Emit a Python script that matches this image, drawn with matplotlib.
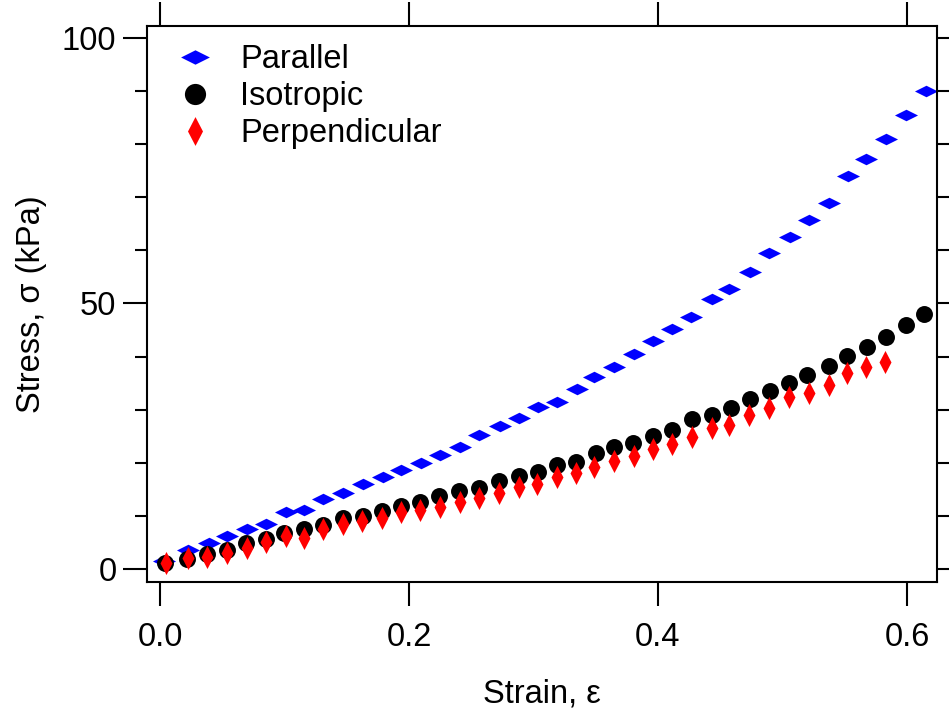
import matplotlib
matplotlib.use("Agg")
import matplotlib.pyplot as plt
from matplotlib.ticker import MultipleLocator, FixedLocator

plt.rcParams['font.family'] = ['Liberation Sans', 'DejaVu Sans']

# ---- data ----
parallel_x = [0.003, 0.0225, 0.039, 0.054, 0.070, 0.085, 0.101, 0.116, 0.131, 0.147,
              0.163, 0.179, 0.194, 0.210, 0.225, 0.241, 0.256, 0.273, 0.288, 0.304,
              0.319, 0.335, 0.349, 0.365, 0.381, 0.396, 0.411, 0.4265, 0.443, 0.457,
              0.474, 0.489, 0.506, 0.521, 0.537, 0.553, 0.567, 0.583, 0.599, 0.615]
parallel_y = [1.5, 3.6, 4.9, 6.2, 7.5, 8.5, 10.7, 11.1, 13.2, 14.3,
              16.0, 17.3, 18.6, 19.9, 21.5, 23.0, 25.2, 26.9, 28.4, 30.5,
              31.5, 33.9, 36.2, 38.0, 40.5, 42.9, 45.2, 47.5, 50.8, 52.7,
              55.9, 59.5, 62.5, 65.7, 68.9, 74.0, 77.2, 81.0, 85.5, 90.0]

isotropic_x = [0.004, 0.022, 0.038, 0.054, 0.069, 0.085, 0.100, 0.116, 0.131, 0.147,
               0.163, 0.178, 0.194, 0.209, 0.224, 0.240, 0.256, 0.272, 0.288, 0.304,
               0.319, 0.334, 0.350, 0.365, 0.380, 0.396, 0.411, 0.427, 0.443, 0.459,
               0.474, 0.490, 0.505, 0.520, 0.537, 0.552, 0.568, 0.583, 0.599, 0.614]
isotropic_y = [1.1, 1.9, 2.8, 3.6, 4.9, 5.7, 6.7, 7.6, 8.2, 9.6,
               10.0, 10.9, 11.9, 12.6, 13.7, 14.7, 15.3, 16.6, 17.5, 18.3,
               19.6, 20.2, 21.8, 22.9, 23.7, 25.0, 26.2, 28.3, 29.0, 30.3,
               32.0, 33.5, 35.0, 36.5, 38.2, 40.1, 41.8, 43.7, 45.9, 48.0]

perp_x = [0.005, 0.0225, 0.038, 0.054, 0.070, 0.085, 0.101, 0.116, 0.131, 0.147,
          0.162, 0.178, 0.194, 0.209, 0.225, 0.241, 0.256, 0.272, 0.288, 0.303,
          0.319, 0.334, 0.349, 0.365, 0.381, 0.396, 0.411, 0.427, 0.443, 0.457,
          0.473, 0.489, 0.505, 0.521, 0.537, 0.552, 0.567, 0.582]
perp_y = [1.1, 2.0, 2.3, 3.0, 4.0, 5.1, 6.2, 5.8, 7.6, 8.5,
          9.0, 9.6, 10.7, 11.1, 11.7, 12.6, 13.4, 14.3, 15.4, 16.0,
          17.3, 18.1, 19.2, 20.3, 21.3, 22.6, 23.5, 24.8, 26.5, 27.1,
          29.0, 30.3, 32.3, 33.2, 34.6, 37.0, 38.0, 39.0]

labels = ["Parallel", "Isotropic", "Perpendicular"]
x_ticks = [0.0, 0.2, 0.4, 0.6]
x_ticklabels = ["0.0", "0.2", "0.4", "0.6"]
y_ticks = [0, 50, 100]
xlabel = "Strain, ε"
ylabel = "Stress, σ (kPa)"

# ---- figure ----
W, H = 949, 715
FS = 23.5
fig = plt.figure(figsize=(W / 100, H / 100), dpi=100)
ax = fig.add_axes([147 / W, 1 - 582 / H, (937 - 147) / W, (582 - 26) / H])

wide_diamond = [(-1, 0), (0, 0.5), (1, 0), (0, -0.5), (-1, 0)]
tall_diamond = [(0, 1), (0.52, 0), (0, -1), (-0.52, 0), (0, 1)]

ax.plot(parallel_x, parallel_y, linestyle='none', marker=wide_diamond,
        markersize=16.6, color='#0000FF', markeredgewidth=0, label=labels[0])
ax.plot(isotropic_x, isotropic_y, linestyle='none', marker='o',
        markersize=12.2, color='#000000', markeredgewidth=0, label=labels[1])
ax.plot(perp_x, perp_y, linestyle='none', marker=tall_diamond,
        markersize=16.6, color='#FF0000', markeredgewidth=0, label=labels[2])

ax.set_xlim(-0.0104, 0.6241)
ax.set_ylim(-2.45, 102.26)

ax.xaxis.set_major_locator(FixedLocator(x_ticks))
ax.set_xticklabels(x_ticklabels)
ax.yaxis.set_major_locator(FixedLocator(y_ticks))
ax.yaxis.set_minor_locator(MultipleLocator(10))

for s in ax.spines.values():
    s.set_linewidth(1.5)

ax.tick_params(which='both', direction='out', top=True, right=True,
               labeltop=False, labelright=False, width=1.5, labelsize=FS)
ax.tick_params(axis='y', which='major', length=17, pad=5)
ax.tick_params(axis='y', which='minor', length=8.6)
ax.tick_params(axis='x', which='major', length=17, pad=12)

ax.set_xlabel(xlabel, fontsize=FS, labelpad=18)
ax.set_ylabel(ylabel, fontsize=FS, labelpad=11)

ax.legend(loc='upper left', bbox_to_anchor=(179 / W, 1 - 44 / H),
          bbox_transform=fig.transFigure, frameon=False, fontsize=FS,
          numpoints=1, markerscale=1.25, handlelength=1.0, handletextpad=0.87,
          borderpad=0, borderaxespad=0, labelspacing=0.19)

fig.savefig("out.png", dpi=100)
